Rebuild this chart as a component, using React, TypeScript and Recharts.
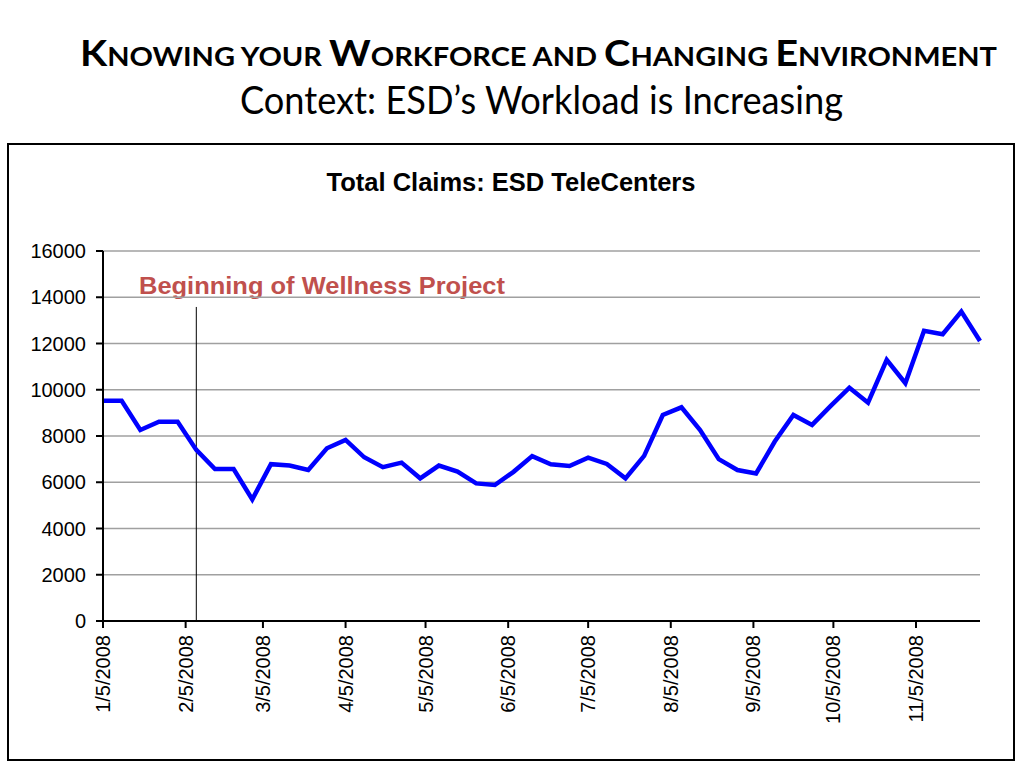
import { CartesianGrid, Line, LineChart, ReferenceLine, XAxis, YAxis } from 'recharts';

// weekly totals, week 0 = 1/5/2008
const weeklyClaims = [
  9520, 9520, 8260, 8620, 8620, 7400, 6570, 6570, 5260, 6780, 6720, 6530,
  7470, 7830, 7080, 6650, 6850, 6170, 6720, 6460, 5950, 5880, 6450, 7130,
  6780, 6700, 7060, 6790, 6170, 7140, 8910, 9240, 8260, 7000, 6530, 6380,
  7760, 8910, 8480, 9300, 10090, 9440, 11290, 10280, 12550, 12400, 13380, 12110,
];

// days since 1/5/2008 for each month tick
const tickDays = [0, 31, 60, 91, 121, 152, 182, 213, 244, 274, 305];
const tickLabels = [
  '1/5/2008', '2/5/2008', '3/5/2008', '4/5/2008', '5/5/2008', '6/5/2008',
  '7/5/2008', '8/5/2008', '9/5/2008', '10/5/2008', '11/5/2008',
];
const yTicks = [0, 2000, 4000, 6000, 8000, 10000, 12000, 14000, 16000];

// wellness project started on 2/9/2008
const wellnessDay = 35;
const wellnessLineTop = 13580;

const data = weeklyClaims.map((claims, i) => ({ day: i * 7, claims }));

const labelFor = (day: number) => tickLabels[tickDays.indexOf(day)] ?? '';

const DateTick = (props: any) => {
  const { x, y, payload } = props;
  return (
    <text
      transform={`translate(${x + 7}, ${y + 5}) rotate(-90)`}
      textAnchor='end'
      fontFamily='Liberation Sans, Arial, sans-serif'
      fontSize={20}
      fill='#000'>
      {labelFor(payload.value)}
    </text>
  );
};

const headFont = 'Lato, "Open Sans", sans-serif';

const App = () => {
  return (
    <div style={{ position: 'absolute', left: 0, top: 0, width: 1024, height: 768, background: '#fff' }}>
      <svg width={1024} height={768} style={{ position: 'absolute', left: 0, top: 0 }}>
        <text
          x={80}
          y={66}
          textLength={917}
          lengthAdjust='spacingAndGlyphs'
          fontFamily={headFont}
          fontWeight={700}
          fill='#000'>
          <tspan fontSize={37}>K</tspan>
          <tspan fontSize={27}>NOWING YOUR </tspan>
          <tspan fontSize={37}>W</tspan>
          <tspan fontSize={27}>ORKFORCE AND </tspan>
          <tspan fontSize={37}>C</tspan>
          <tspan fontSize={27}>HANGING </tspan>
          <tspan fontSize={37}>E</tspan>
          <tspan fontSize={27}>NVIRONMENT</tspan>
        </text>
        <text
          x={240}
          y={114}
          textLength={603}
          lengthAdjust='spacingAndGlyphs'
          fontFamily={headFont}
          fontSize={38}
          fill='#000'>
          Context: ESD’s Workload is Increasing
        </text>
        <rect x={8} y={144} width={1006} height={616} fill='none' stroke='#000' strokeWidth={2} />
        <text
          x={511}
          y={191}
          textAnchor='middle'
          fontFamily='Liberation Sans, Arial, sans-serif'
          fontWeight={700}
          fontSize={25.5}
          fill='#000'>
          Total Claims: ESD TeleCenters
        </text>
        <text
          x={139}
          y={294}
          textLength={366}
          lengthAdjust='spacingAndGlyphs'
          fontFamily='Liberation Sans, Arial, sans-serif'
          fontWeight={700}
          fontSize={24}
          fill='#C0504D'>
          Beginning of Wellness Project
        </text>
      </svg>
      <LineChart
        width={1024}
        height={768}
        data={data}
        margin={{ top: 251, right: 44, bottom: 47, left: 0 }}
        style={{ position: 'absolute', left: 0, top: 0 }}>
        <CartesianGrid vertical={false} stroke='#a0a0a0' strokeWidth={1.5} />
        <XAxis
          dataKey='day'
          type='number'
          domain={[0, 329]}
          ticks={tickDays}
          interval={0}
          height={100}
          tick={<DateTick />}
          tickSize={7}
          stroke='#000'
          strokeWidth={2}
        />
        <YAxis
          type='number'
          domain={[0, 16000]}
          ticks={yTicks}
          interval={0}
          width={103}
          tickSize={7}
          tickMargin={10}
          stroke='#000'
          strokeWidth={2}
          tick={{ fill: '#000', fontSize: 20, fontFamily: 'Liberation Sans, Arial, sans-serif' }}
        />
        <ReferenceLine
          segment={[
            { x: wellnessDay, y: 0 },
            { x: wellnessDay, y: wellnessLineTop },
          ]}
          stroke='#000'
          strokeWidth={1}
        />
        <Line
          type='linear'
          dataKey='claims'
          stroke='#0000ff'
          strokeWidth={4.5}
          dot={false}
          isAnimationActive={false}
        />
      </LineChart>
    </div>
  );
};

export default App;
